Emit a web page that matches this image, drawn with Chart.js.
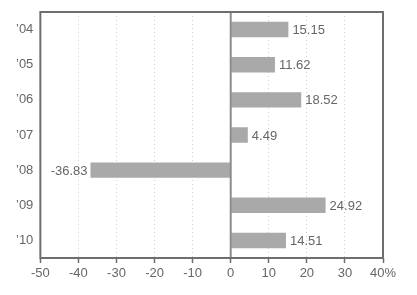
<!DOCTYPE html>
<html lang="en">
  <head>
    <meta charset="UTF-8" />
    <script src="https://cdn.jsdelivr.net/npm/chart.js@4/dist/chart.umd.min.js"></script>
    <title>Yearly change</title>
    <style>
      html, body { margin: 0; padding: 0; background: #fff; }
      #wrap { width: 417px; height: 295px; }
    </style>
  </head>
  <body>
    <div id="wrap"><canvas id="myChart"></canvas></div>

    <script>
      const years = ["\u201904", "\u201905", "\u201906", "\u201907", "\u201908", "\u201909", "\u201910"];
      const changes = [15.15, 11.62, 18.52, 4.49, -36.83, 24.92, 14.51];
      const xMin = -50;
      const xMax = 40;

      // frame around the plot area, zero line and value labels
      const extras = {
        id: "extras",
        afterDatasetsDraw(chart) {
          const ctx = chart.ctx;
          const a = chart.chartArea;
          const x = chart.scales.x;
          ctx.save();
          // zero line
          ctx.strokeStyle = "#8c8c8c";
          ctx.lineWidth = 2;
          ctx.beginPath();
          ctx.moveTo(x.getPixelForValue(0), a.top);
          ctx.lineTo(x.getPixelForValue(0), a.bottom);
          ctx.stroke();
          // frame
          ctx.strokeStyle = "#6e6e6e";
          ctx.lineWidth = 2;
          ctx.strokeRect(a.left, a.top, a.right - a.left, a.bottom - a.top);
          // labels
          ctx.fillStyle = "#666";
          ctx.font = "13px 'Liberation Sans', Arial, sans-serif";
          ctx.textBaseline = "middle";
          chart.getDatasetMeta(0).data.forEach((bar, i) => {
            const v = changes[i];
            const txt = v.toFixed(2);
            if (v >= 0) {
              ctx.textAlign = "left";
              ctx.fillText(txt, bar.x + 4, bar.y + 1);
            } else {
              ctx.textAlign = "right";
              ctx.fillText(txt, bar.x - 3, bar.y + 1);
            }
          });
          ctx.restore();
        }
      };

      const myChart = document.getElementById("myChart").getContext("2d");
      const chart = new Chart(myChart, {
        type: "bar",
        data: {
          labels: years,
          datasets: [
            {
              data: changes,
              backgroundColor: "#a9a9a9",
              borderWidth: 0,
              barPercentage: 0.44,
              categoryPercentage: 1
            }
          ]
        },
        options: {
          indexAxis: "y",
          responsive: true,
          maintainAspectRatio: false,
          animation: false,
          layout: { autoPadding: false, padding: { top: 12, right: 34, left: 9, bottom: 10.4 } },
          plugins: {
            legend: { display: false },
            tooltip: { enabled: false }
          },
          scales: {
            x: {
              min: xMin,
              max: xMax,
              ticks: {
                stepSize: 10,
                color: "#666",
                padding: 3,
                maxRotation: 0,
                font: { family: "'Liberation Sans', Arial, sans-serif", size: 13 },
                callback: (v) => (v === xMax ? v + "%" : v)
              },
              grid: {
                color: "#cfcfcf",
                tickColor: "#6e6e6e",
                tickBorderDash: [1, 0],
                tickLength: 5,
                tickWidth: 1.5
              },
              border: { display: false, dash: [1, 3] }
            },
            y: {
              ticks: {
                color: "#666",
                padding: 7,
                font: { family: "'Liberation Sans', Arial, sans-serif", size: 13, lineHeight: 0.5 }
              },
              grid: { display: false, drawTicks: false },
              border: { display: false }
            }
          }
        },
        plugins: [extras]
      });
    </script>
  </body>
</html>
